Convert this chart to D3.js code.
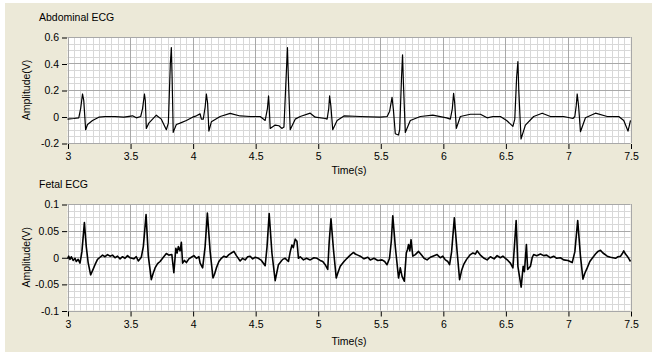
<!DOCTYPE html>
<html>
<head>
<meta charset="utf-8">
<script src="https://cdn.jsdelivr.net/npm/d3@7"></script>
<style>
body { margin: 0; background: #fff; }
svg text { font-family: "Liberation Sans", Arial, sans-serif; fill: #000; }
</style>
</head>
<body>
<svg id="chart" width="661" height="363"></svg>
<script>
// time axis ticks (s)
const timeTicks = [3, 3.5, 4, 4.5, 5, 5.5, 6, 6.5, 7, 7.5];
const abdTicks = [-0.2, 0, 0.2, 0.4, 0.6];
const fetTicks = [-0.1, -0.05, 0, 0.05, 0.1];

// [time, amplitude]
const abdominal = [
  [3.00,-0.02],[3.05,-0.015],[3.09,-0.01],[3.105,0.06],[3.12,0.17],[3.13,0.12],[3.145,-0.10],[3.16,-0.06],
  [3.20,-0.03],[3.25,-0.005],[3.30,0.00],[3.38,0.00],[3.45,-0.005],[3.52,0.005],[3.55,-0.01],[3.585,0.00],
  [3.60,0.06],[3.615,0.17],[3.622,0.12],[3.63,-0.09],[3.65,-0.05],[3.71,0.01],[3.75,-0.02],[3.79,-0.10],
  [3.806,-0.05],[3.822,0.4],[3.83,0.52],[3.836,0.3],[3.845,-0.12],[3.87,-0.06],[3.90,-0.05],[3.95,-0.03],
  [4.00,-0.005],[4.03,0.005],[4.06,0.02],[4.07,-0.02],[4.085,-0.02],[4.10,0.07],[4.11,0.17],[4.12,0.1],
  [4.13,-0.11],[4.15,-0.04],[4.22,0.00],[4.30,0.024],[4.38,0.004],[4.46,0.00],[4.54,0.00],[4.58,-0.03],
  [4.598,0.06],[4.607,0.155],[4.612,0.08],[4.62,-0.09],[4.66,-0.065],[4.69,-0.07],[4.713,-0.09],[4.73,-0.08],
  [4.75,0.35],[4.758,0.52],[4.765,0.3],[4.78,-0.10],[4.82,-0.02],[4.86,0.00],[4.94,0.025],[4.98,-0.005],
  [5.06,-0.015],[5.075,-0.02],[5.088,0.06],[5.095,0.155],[5.105,0.08],[5.12,-0.10],[5.155,-0.03],
  [5.21,0.004],[5.34,0.00],[5.50,-0.005],[5.555,0.00],[5.575,0.04],[5.594,0.145],[5.605,0.05],[5.62,-0.13],
  [5.645,-0.14],[5.655,-0.10],[5.67,0.3],[5.678,0.465],[5.685,0.25],[5.70,-0.12],[5.74,-0.03],[5.82,0.00],
  [5.92,0.01],[6.03,-0.01],[6.06,-0.02],[6.076,0.06],[6.086,0.175],[6.095,0.1],[6.108,-0.09],[6.14,0.00],
  [6.22,0.017],[6.30,0.017],[6.354,-0.01],[6.40,0.00],[6.46,0.00],[6.51,-0.03],[6.56,-0.075],[6.575,-0.02],
  [6.59,0.3],[6.60,0.415],[6.607,0.2],[6.625,-0.17],[6.66,-0.065],[6.726,0.00],[6.794,0.025],[6.86,0.00],
  [6.966,0.00],[7.04,-0.015],[7.055,0.00],[7.066,0.08],[7.074,0.17],[7.085,0.08],[7.10,-0.115],[7.14,-0.01],
  [7.22,0.025],[7.314,0.00],[7.406,0.00],[7.446,-0.03],[7.48,-0.11],[7.49,-0.07],[7.50,-0.03]
];

const fetal = [
  [3.00,-0.003],[3.01,0.002],[3.02,-0.004],[3.03,0.001],[3.045,-0.006],[3.06,-0.002],[3.07,-0.008],[3.085,-0.004],
  [3.10,-0.011],[3.115,0.01],[3.135,0.065],[3.15,0.02],[3.165,-0.01],[3.185,-0.033],[3.20,-0.025],[3.22,-0.014],
  [3.24,-0.004],[3.26,0.0],[3.28,0.004],[3.30,0.001],[3.32,0.005],[3.34,0.002],[3.36,0.004],[3.38,-0.001],
  [3.40,0.002],[3.42,-0.003],[3.44,0.001],[3.46,-0.002],[3.48,0.003],[3.50,-0.001],[3.53,-0.003],[3.55,0.001],
  [3.566,-0.007],[3.59,0.0],[3.606,0.02],[3.628,0.08],[3.646,0.002],[3.67,-0.042],[3.685,-0.03],[3.70,-0.02],
  [3.72,-0.012],[3.74,-0.008],[3.76,-0.002],[3.79,0.007],[3.81,0.004],[3.834,0.005],[3.85,-0.029],[3.866,0.017],
  [3.876,0.008],[3.886,0.02],[3.90,0.012],[3.91,0.028],[3.92,-0.011],[3.935,-0.006],[3.95,-0.01],[3.97,-0.003],
  [3.99,0.0],[4.01,0.003],[4.03,-0.002],[4.05,0.001],[4.06,-0.011],[4.08,-0.02],[4.10,0.02],[4.118,0.083],
  [4.14,0.011],[4.163,-0.039],[4.175,-0.032],[4.19,-0.02],[4.21,-0.008],[4.23,-0.002],[4.25,0.002],[4.27,0.0],
  [4.29,0.005],[4.31,0.008],[4.33,0.011],[4.35,0.003],[4.38,-0.007],[4.40,-0.002],[4.42,-0.005],[4.44,0.001],
  [4.46,0.002],[4.48,-0.003],[4.50,0.0],[4.526,-0.002],[4.55,-0.006],[4.58,-0.016],[4.595,0.02],[4.612,0.082],
  [4.634,0.008],[4.66,-0.044],[4.686,-0.014],[4.70,-0.01],[4.72,-0.004],[4.74,-0.002],[4.766,-0.008],[4.78,0.01],
  [4.794,0.023],[4.805,0.018],[4.82,0.034],[4.834,0.03],[4.846,-0.002],[4.86,0.001],[4.886,-0.005],[4.91,-0.002],
  [4.94,-0.005],[4.97,-0.001],[4.994,-0.002],[5.02,-0.006],[5.04,-0.008],[5.06,-0.014],[5.08,-0.023],[5.092,0.03],
  [5.106,0.072],[5.126,0.014],[5.148,-0.039],[5.16,-0.03],[5.18,-0.017],[5.21,-0.008],[5.234,-0.002],[5.26,0.004],
  [5.286,0.009],[5.30,0.006],[5.32,0.004],[5.34,0.002],[5.37,-0.003],[5.40,0.0],[5.42,-0.005],[5.45,-0.002],
  [5.48,-0.006],[5.514,-0.005],[5.535,-0.008],[5.554,-0.014],[5.574,-0.002],[5.588,0.03],[5.60,0.078],[5.62,0.02],
  [5.646,-0.039],[5.66,-0.02],[5.674,-0.036],[5.692,-0.045],[5.708,0.008],[5.718,0.015],[5.726,0.024],[5.736,0.012],
  [5.746,0.033],[5.76,0.002],[5.78,0.005],[5.806,0.011],[5.83,0.004],[5.85,-0.002],[5.874,-0.005],[5.90,0.0],
  [5.93,0.003],[5.954,0.005],[5.98,-0.001],[6.00,0.002],[6.02,-0.005],[6.04,-0.008],[6.054,-0.014],[6.07,0.01],
  [6.092,0.074],[6.114,0.011],[6.134,-0.042],[6.15,-0.025],[6.166,-0.014],[6.19,-0.004],[6.22,0.005],[6.24,0.008],
  [6.26,0.006],[6.274,0.012],[6.30,0.004],[6.33,-0.002],[6.354,-0.005],[6.38,0.001],[6.41,-0.003],[6.434,0.003],
  [6.46,-0.001],[6.48,0.002],[6.50,-0.002],[6.52,-0.006],[6.54,-0.011],[6.56,-0.02],[6.572,0.02],[6.586,0.069],
  [6.60,-0.017],[6.626,-0.056],[6.642,-0.017],[6.652,-0.027],[6.668,0.024],[6.678,-0.023],[6.70,-0.017],[6.715,0.0],
  [6.726,0.005],[6.75,0.003],[6.78,0.006],[6.806,0.003],[6.83,0.004],[6.86,-0.001],[6.886,0.002],[6.91,-0.002],
  [6.94,-0.001],[6.966,-0.005],[7.00,-0.006],[7.034,-0.01],[7.055,0.01],[7.078,0.069],[7.10,0.002],[7.12,-0.041],
  [7.135,-0.03],[7.154,-0.02],[7.175,-0.008],[7.194,-0.002],[7.22,0.006],[7.24,0.011],[7.26,0.013],[7.28,0.008],
  [7.314,0.002],[7.34,0.0],[7.38,-0.002],[7.40,0.001],[7.42,0.002],[7.435,0.007],[7.446,0.012],[7.46,0.006],
  [7.474,0.002],[7.49,-0.004],[7.50,-0.008]
];

const svg = d3.select("#chart");

// windows-style panel background
svg.append("rect").attr("x", 5).attr("y", 3).attr("width", 647).attr("height", 349).attr("fill", "#ece9d8");

const x = d3.scaleLinear().domain([3, 7.5]).range([67.5, 630.5]);

function drawPanel(cfg) {
  const y = d3.scaleLinear().domain(cfg.domain).range([cfg.bottom, cfg.top]);
  const g = svg.append("g");

  g.append("rect")
    .attr("x", x.range()[0]).attr("y", cfg.top)
    .attr("width", x.range()[1] - x.range()[0]).attr("height", cfg.bottom - cfg.top)
    .attr("fill", "#fff");

  // minor grid
  const xMinor = d3.range(3, 7.5001, 0.05);
  const yMinor = d3.range(cfg.domain[0], cfg.domain[1] + 1e-9, cfg.minor);
  g.selectAll(".xm").data(xMinor).enter().append("line")
    .attr("x1", d => Math.round(x(d)) + 0.5).attr("x2", d => Math.round(x(d)) + 0.5)
    .attr("y1", cfg.top).attr("y2", cfg.bottom)
    .attr("stroke", "#d8d8d8");
  g.selectAll(".ym").data(yMinor).enter().append("line")
    .attr("x1", x.range()[0]).attr("x2", x.range()[1])
    .attr("y1", d => Math.round(y(d)) + 0.5).attr("y2", d => Math.round(y(d)) + 0.5)
    .attr("stroke", "#d8d8d8");

  // major grid
  g.selectAll(".xM").data(timeTicks).enter().append("line")
    .attr("x1", d => Math.round(x(d)) + 0.5).attr("x2", d => Math.round(x(d)) + 0.5)
    .attr("y1", cfg.top).attr("y2", cfg.bottom)
    .attr("stroke", "#a8a8a8");
  g.selectAll(".yM").data(cfg.ticks).enter().append("line")
    .attr("x1", x.range()[0]).attr("x2", x.range()[1])
    .attr("y1", d => Math.round(y(d)) + 0.5).attr("y2", d => Math.round(y(d)) + 0.5)
    .attr("stroke", "#a8a8a8");

  const fmt = d => String(+d.toFixed(3));

  const yAxis = g.append("g")
    .attr("transform", `translate(${x.range()[0] - 0.5},0.5)`)
    .call(d3.axisLeft(y).tickValues(cfg.ticks).tickSize(5).tickPadding(3).tickFormat(fmt));
  const xAxis = g.append("g")
    .attr("transform", `translate(0.5,${cfg.bottom + 1})`)
    .call(d3.axisBottom(x).tickValues(timeTicks).tickSize(5).tickPadding(4).tickFormat(fmt));
  [yAxis, xAxis].forEach(a => {
    a.select(".domain").remove();
    a.selectAll("line").attr("stroke", "#000");
    a.selectAll("text").attr("font-size", 10.5).attr("font-family", null);
  });

  const line = d3.line().x(d => x(d[0])).y(d => y(d[1]));
  g.append("path")
    .datum(cfg.data)
    .attr("d", line)
    .attr("fill", "none")
    .attr("stroke", "#000")
    .attr("stroke-width", cfg.stroke)
    .attr("stroke-linejoin", "round");

  g.append("text").attr("x", 39).attr("y", cfg.top - 16)
    .attr("font-size", 10.5).text(cfg.title);
  g.append("text")
    .attr("transform", `translate(30,${(cfg.top + cfg.bottom) / 2}) rotate(-90)`)
    .attr("text-anchor", "middle").attr("font-size", 10.5).text("Amplitude(V)");
  g.append("text").attr("x", (x.range()[0] + x.range()[1]) / 2).attr("y", cfg.bottom + cfg.labelGap)
    .attr("text-anchor", "middle").attr("font-size", 10.5).text("Time(s)");
}

drawPanel({ title: "Abdominal ECG", data: abdominal, domain: [-0.2, 0.6], ticks: abdTicks,
  minor: 0.05, top: 37, bottom: 143, stroke: 1.2, labelGap: 31 });
drawPanel({ title: "Fetal ECG", data: fetal, domain: [-0.1, 0.1], ticks: fetTicks,
  minor: 0.0125, top: 204, bottom: 310.5, stroke: 1.6, labelGap: 34 });
</script>
</body>
</html>
